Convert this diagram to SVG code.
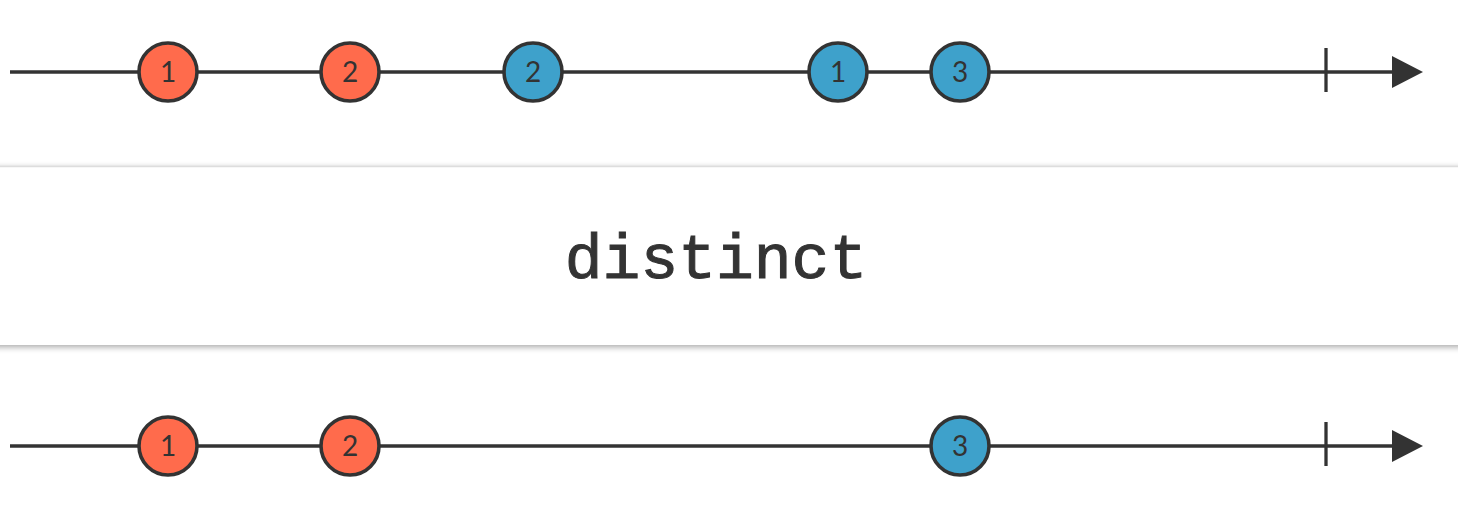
<svg xmlns="http://www.w3.org/2000/svg" width="1458" height="508" viewBox="0 0 1458 508">
  <defs>
    <style>
      .axis { stroke: #333; stroke-width: 3.3; fill: none; }
      .tick { stroke: #333; stroke-width: 3.3; }
      .head { fill: #333; }
      .red circle { fill: #ff6b4c; stroke: #333; stroke-width: 3.6; }
      .blue circle { fill: #3ea1cb; stroke: #333; stroke-width: 3.6; }
      .num { font-family: "Lato", "Open Sans", "Liberation Sans", sans-serif; font-size: 28px; fill: #333; text-anchor: middle; }
      .op { font-family: "Liberation Mono", monospace; font-size: 63px; fill: #333; stroke: #333; stroke-width: 1; text-anchor: middle; }
    </style>
    <filter id="shadow" x="-5%" y="-20%" width="110%" height="150%">
      <feDropShadow dx="0" dy="2" stdDeviation="3" flood-color="#000" flood-opacity="0.35"/>
    </filter>
  </defs>
  <rect width="1458" height="508" fill="#fff"/>

  <!-- timelines -->
  <g id="connectors">
    <line class="axis" x1="10" y1="72" x2="1400" y2="72"/>
    <line class="tick" x1="1326" y1="48" x2="1326" y2="92"/>
    <polygon class="head" points="1392,56 1423,72 1392,88"/>
    <line class="axis" x1="10" y1="446" x2="1400" y2="446"/>
    <line class="tick" x1="1326" y1="422" x2="1326" y2="466"/>
    <polygon class="head" points="1392,430 1423,446 1392,462"/>
  </g>

  <!-- operator box -->
  <g id="operator">
    <rect x="-10" y="166" width="1478" height="179" fill="#fff" filter="url(#shadow)"/>
    <line x1="0" y1="166.5" x2="1458" y2="166.5" stroke="#ddd" stroke-width="1.5"/>
    <text class="op" x="716" y="278">distinct</text>
  </g>

  <!-- input marbles -->
  <g id="in-1" class="red"><circle cx="168" cy="72" r="29"/><text class="num" x="168" y="82">1</text></g>
  <g id="in-2" class="red"><circle cx="350" cy="72" r="29"/><text class="num" x="350" y="82">2</text></g>
  <g id="in-3" class="blue"><circle cx="533" cy="72" r="29"/><text class="num" x="533" y="82">2</text></g>
  <g id="in-4" class="blue"><circle cx="838" cy="72" r="29"/><text class="num" x="838" y="82">1</text></g>
  <g id="in-5" class="blue"><circle cx="960" cy="72" r="29"/><text class="num" x="960" y="82">3</text></g>

  <!-- output marbles -->
  <g id="out-1" class="red"><circle cx="168" cy="446" r="29"/><text class="num" x="168" y="456">1</text></g>
  <g id="out-2" class="red"><circle cx="350" cy="446" r="29"/><text class="num" x="350" y="456">2</text></g>
  <g id="out-3" class="blue"><circle cx="960" cy="446" r="29"/><text class="num" x="960" y="456">3</text></g>
</svg>
